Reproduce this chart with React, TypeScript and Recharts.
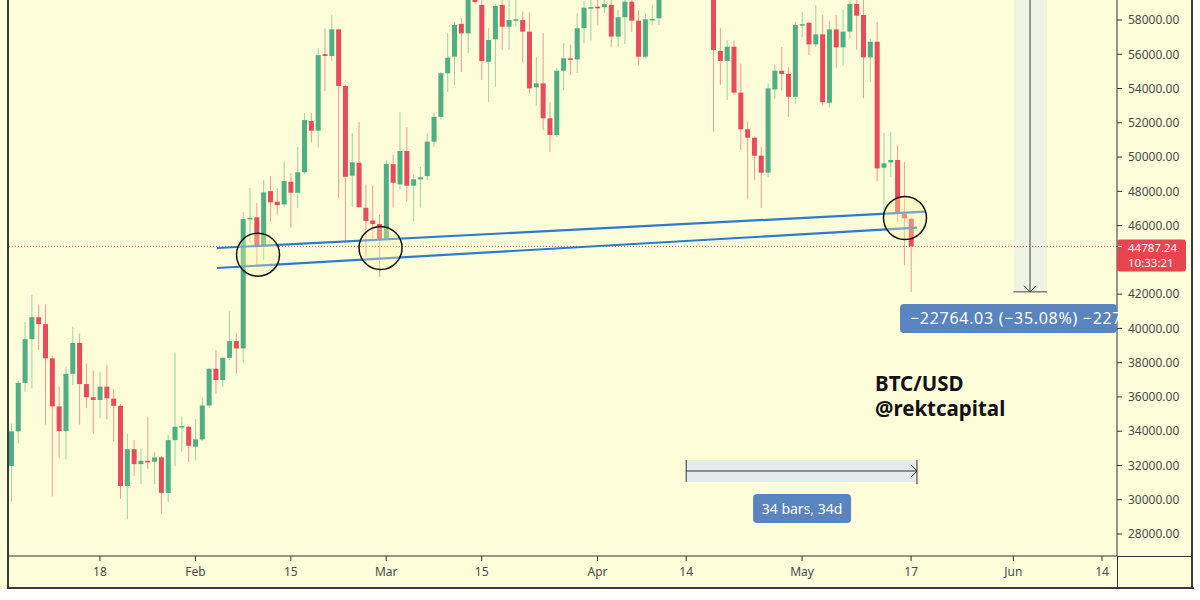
import { ComposedChart, Bar, XAxis, YAxis, ReferenceLine, ReferenceDot, ReferenceArea } from 'recharts';

// day index counted from 1 Jan 2021 = 0, first candle is 5 Jan
const firstDay = 4;

const opens = [
  31970, 33990, 36820, 39370, 40650, 40250, 38250, 35450, 34000, 37350, 39150, 36750, 35980, 35820, 36600, 35900,
  35480, 30800, 32950, 32080, 32270, 32220, 32470, 30400, 33480, 34260, 34260,
  33100, 33520, 35500, 37650, 36980, 38280, 39260, 38830, 46380, 46480, 44800, 48010, 47390, 47240, 48560, 47920,
  49110, 52100, 51540, 56000, 55900, 57450, 54150, 48910, 49670, 47040, 46300, 46090,
  45200, 49590, 48410, 50350, 48330, 48700, 48890, 50900, 52350, 54890, 55860, 57770, 57220, 61240, 58880, 55560,
  56870, 58880, 57610, 58000, 58000, 57320, 54070, 54300, 52260, 51290, 55040, 55760, 55700, 57520, 58720,
  58780, 58740, 58880, 57030, 58160, 59070, 57960, 55860, 58040, 58100, 59800, 60200, 59900, 63500, 63100, 63300,
  61600, 60700, 56190, 55610, 56440, 53760, 51620, 51130, 50080, 49090, 53950, 55040, 54850, 53520,
  57710, 57840, 56580, 57160, 53170, 57450, 56400, 57320, 58930, 58290, 55820, 56730, 49380, 49690, 49830, 46670, 46400,
];
const highs = [
  34440, 36940, 40370, 41950, 41400, 41400, 38400, 36620, 37780, 40100, 39700, 37950, 37550, 37450, 37850, 36450,
  35600, 33850, 33480, 32950, 34850, 32800, 32560, 33780, 38600, 34850, 34300,
  34700, 35980, 37660, 38720, 38300, 41000, 39720, 46800, 48200, 47330, 48650, 48900, 48170, 49720, 49050, 50580,
  52570, 52570, 56360, 57500, 58300, 57500, 54200, 51400, 52040, 48400, 48360, 46610,
  49830, 50150, 52620, 51750, 49000, 49420, 51400, 52620, 54960, 57240, 57900, 58120, 61800, 61700, 60600, 57530,
  58950, 60100, 59400, 59900, 58500, 58430, 55840, 57240, 53210, 55200, 56650, 56540, 58400, 59100, 59800,
  59500, 60000, 59800, 58580, 59300, 59500, 58580, 58400, 58870, 61200, 60700, 61300, 64000, 64900, 63800, 63600,
  62500, 61200, 57530, 56830, 56800, 55450, 52050, 51200, 50600, 54300, 55400, 56420, 55250, 57900,
  58460, 57880, 58880, 58290, 57950, 58290, 58600, 59500, 59250, 59500, 56900, 57880, 51400, 51460, 50700, 49710, 46450,
];
const lows = [
  29900, 33290, 36300, 36500, 38750, 34400, 30200, 32450, 32350, 36700, 34400, 35350, 33850, 34750, 34700, 33400,
  30050, 28850, 31380, 30900, 31800, 30900, 29150, 29850, 31950, 32800, 32200,
  32300, 33420, 35360, 36180, 36580, 38150, 37360, 37990, 45000, 43650, 44000, 46230, 46650, 47100, 45880, 47030,
  49000, 50850, 50550, 53850, 55600, 47600, 45000, 47100, 47050, 44150, 45150, 43000,
  45150, 47050, 48100, 47400, 46250, 47050, 48660, 50580, 52160, 53800, 54200, 54960, 56050, 58950, 54500, 53210,
  54100, 56250, 56250, 57600, 55500, 53700, 53000, 51570, 50290, 51170, 53910, 54790, 54900, 56650, 56800,
  57710, 58400, 56420, 56420, 56600, 57300, 55370, 55780, 57700, 57700, 59350, 59500, 59800, 61300, 62000, 60000,
  59600, 51480, 54200, 53330, 53620, 50410, 47530, 48660, 47020, 48830, 53400, 53900, 52340, 53100,
  57000, 55960, 56420, 53040, 52900, 55200, 55370, 56900, 56250, 53430, 54380, 48600, 46500, 48830, 46200, 43700, 42120,
];
const closes = [
  33990, 36820, 39370, 40650, 40250, 38250, 35450, 34000, 37350, 39150, 36750, 35980, 35820, 36600, 35920, 35480,
  30800, 32950, 32080, 32270, 32220, 32470, 30400, 33480, 34260, 34300, 33150,
  33520, 35500, 37650, 36980, 38280, 39260, 38830, 46380, 46450, 44800, 47940, 47360, 47200, 48600, 47920, 49110,
  52160, 51540, 55950, 55900, 57450, 54150, 48850, 49690, 47070, 46270, 46090, 45200,
  49590, 48500, 50350, 48330, 48700, 48820, 50900, 52350, 54890, 55800, 57710, 57220, 61240, 59050, 55600, 56830,
  58820, 57610, 58000, 58040, 57320, 54010, 54300, 52260, 51290, 55040, 55760, 55700, 57520, 58720, 58750,
  58680, 58930, 57030, 58160, 59070, 57960, 55860, 58040, 58060, 59800, 60200, 59900, 63500, 63100, 63300, 61600,
  60700, 56250, 55610, 56440, 53760, 51620, 51130, 50080, 49090, 54010, 55040, 54850, 53520, 57710,
  57760, 56580, 57160, 53200, 57450, 56400, 57320, 58930, 58250, 55820, 56730, 49340, 49630, 49830, 46770, 46420, 44787.24,
];

const tickDays = [17, 31, 45, 59, 73, 90, 103, 120, 136, 151, 164];
const tickLabels = ['18', 'Feb', '15', 'Mar', '15', 'Apr', '14', 'May', '17', 'Jun', '14'];
// 44000 sits under the price tag
const priceTicks = [28000, 30000, 32000, 34000, 36000, 38000, 40000, 42000, 46000, 48000, 50000, 52000, 54000, 56000, 58000];

const lastPrice = 44787.24;
const countdown = '10:33:21';

const channelTop = [{ x: 34.17, y: 44692 }, { x: 138.03, y: 46811 }];
const channelBottom = [{ x: 34.17, y: 43525 }, { x: 136.86, y: 45877 }];
const touchDays = [40.19, 58.16, 135.1];
const touchPrices = [44302, 44692, 46443];

// price range tool: top off-screen, bottom at the low
const dropDay = 153.44;
const dropLow = 42131;
const dropText = '\u221222764.03 (\u221235.08%) \u2212227';

// date range tool: 14 Apr -> 18 May
const rangeStart = 103;
const rangeEnd = 136.86;
const rangeText = '34 bars, 34d';

const watermark = ['BTC/USD', '@rektcapital'];

const xDomain = [3.51, 166.2];
const yDomain = [26716, 59167];

const BG = '#fdfdd9';
const GREEN = '#4fae82';
const RED = '#e84b5b';
const BLUE = '#2b7bd0';
const TAG_BLUE = '#5a84c0';
const AXIS_TEXT = '#4a4a4a';
const FONT = '"Noto Sans", sans-serif';

const candles = opens.map((o, i) => ({
  day: firstDay + i,
  open: o,
  high: highs[i],
  low: lows[i],
  close: closes[i],
}));

function Candle(props: any) {
  const { x, y, width, height, payload } = props;
  const { open, close, high, low } = payload;
  const cx = x + width / 2;
  const k = height / (high - low);
  const yo = y + (high - open) * k;
  const yc = y + (high - close) * k;
  const color = close >= open ? GREEN : RED;
  const top = Math.min(yo, yc);
  const h = Math.max(Math.abs(yo - yc), 1.5);
  return (
    <g>
      <line x1={cx} x2={cx} y1={y} y2={y + height} stroke={color} strokeOpacity={0.55} strokeWidth={1} />
      <rect x={cx - 2.5} y={top} width={5} height={h} fill={color} />
    </g>
  );
}

function PriceTag(props: any) {
  const { cx, cy } = props;
  return (
    <g>
      <rect x={cx} y={cy - 7} width={69} height={32} rx={3} fill="#e8454f" />
      <line x1={cx + 1} x2={cx + 5} y1={cy} y2={cy} stroke="#fff" />
      <text fill="#fff" fontSize={11.5} fontFamily={FONT}>
        <tspan x={cx + 11} y={cy + 6}>{lastPrice.toFixed(2)}</tspan>
        <tspan x={cx + 11} y={cy + 20.5}>{countdown}</tspan>
      </text>
    </g>
  );
}

function DropTag(props: any) {
  const { cx, cy } = props;
  return (
    <g>
      <rect x={cx} y={cy - 14.5} width={217} height={29} rx={4} fill={TAG_BLUE} />
      <text x={cx + 10} y={cy + 5.5} fill="#fff" fontSize={16} letterSpacing={0.7} fontFamily={FONT}>{dropText}</text>
    </g>
  );
}

function RangeTag(props: any) {
  const { cx, cy } = props;
  return (
    <g>
      <rect x={cx - 49} y={cy - 14.5} width={98} height={29} rx={4} fill={TAG_BLUE} />
      <text x={cx} y={cy + 5} fill="#fff" fontSize={14} textAnchor="middle" fontFamily={FONT}>{rangeText}</text>
    </g>
  );
}

function Watermark(props: any) {
  const { cx, cy } = props;
  return (
    <text fontFamily={FONT} fontWeight={700} fontSize={20.5} fill="#111">
      <tspan x={cx} y={cy - 1}>{watermark[0]}</tspan>
      <tspan x={cx} y={cy + 24.5}>{watermark[1]}</tspan>
    </text>
  );
}

const box = (s: any) => ({ position: 'absolute' as const, ...s });

export default function App() {
  return (
    <div style={box({ left: 0, top: 0, width: 1200, height: 600, background: '#fff', overflow: 'hidden' })}>
      <div style={box({ left: 0, top: 0, width: 1192, height: 588, background: BG })} />
      <div style={box({ left: 7, top: 0, width: 2, height: 589, background: '#3a3a3a' })} />
      <div style={box({ left: 7, top: 587, width: 1187, height: 2, background: '#3a3a3a' })} />
      <div style={box({ left: 1191, top: 0, width: 2, height: 589, background: '#3a3a3a' })} />
      <div style={box({ left: 1117, top: 556, width: 1, height: 32, background: '#333' })} />
      <div style={box({ left: 1117, top: 556, width: 75, height: 1, background: '#333' })} />
      <div style={box({ left: 0, top: 0 })}>
        <ComposedChart
          width={1200}
          height={600}
          data={candles}
          margin={{ top: 0, right: 8, bottom: 12, left: 8 }}
          style={{ fontFamily: FONT }}
        >
          <XAxis
            dataKey="day"
            type="number"
            domain={xDomain}
            allowDataOverflow
            ticks={tickDays}
            interval={0}
            tickFormatter={(v: number) => tickLabels[tickDays.indexOf(v)]}
            height={32}
            tickSize={5}
            tickMargin={6}
            stroke="#333"
            tick={{ fill: AXIS_TEXT, fontSize: 12 }}
          />
          <YAxis
            orientation="right"
            type="number"
            domain={yDomain}
            allowDataOverflow
            ticks={priceTicks}
            interval={0}
            tickFormatter={(v: number) => v.toFixed(2)}
            width={75}
            tickSize={5}
            tickMargin={6}
            stroke="#333"
            tick={{ fill: AXIS_TEXT, fontSize: 12 }}
          />

          <ReferenceArea x1={151.09} x2={155.93} y1={dropLow} y2={70000} fill="#eef3e2" fillOpacity={1} ifOverflow="hidden" />
          <ReferenceArea x1={rangeStart} x2={rangeEnd} y1={31035} y2={32319} fill="#e2ecea" fillOpacity={1} />

          <ReferenceLine y={lastPrice} stroke="#d0505a" strokeDasharray="1 2" />

          <Bar dataKey={(d: any) => [d.low, d.high]} shape={Candle} barSize={5} isAnimationActive={false} />

          <ReferenceLine segment={channelTop} stroke={BLUE} strokeWidth={2.2} />
          <ReferenceLine segment={channelBottom} stroke={BLUE} strokeWidth={2.2} />
          {touchDays.map((d, i) => (
            <ReferenceDot key={i} x={d} y={touchPrices[i]} r={21.5} fill="#fff6b0" fillOpacity={0.35} stroke="#111" strokeWidth={1.5} />
          ))}

          {/* price range arrow */}
          <ReferenceLine segment={[{ x: dropDay, y: 70000 }, { x: dropDay, y: dropLow }]} stroke="#444" ifOverflow="hidden" />
          <ReferenceLine segment={[{ x: 151.0, y: dropLow }, { x: 155.93, y: dropLow }]} stroke="#444" />
          <ReferenceLine segment={[{ x: dropDay - 0.88, y: dropLow + 360 }, { x: dropDay, y: dropLow }]} stroke="#444" />
          <ReferenceLine segment={[{ x: dropDay + 0.88, y: dropLow + 360 }, { x: dropDay, y: dropLow }]} stroke="#444" />
          <ReferenceDot x={134.37} y={40578} shape={DropTag} ifOverflow="visible" />

          {/* date range arrow */}
          <ReferenceLine segment={[{ x: rangeStart, y: 31677 }, { x: rangeEnd, y: 31677 }]} stroke="#333" />
          <ReferenceLine segment={[{ x: rangeStart, y: 32319 }, { x: rangeStart, y: 31035 }]} stroke="#333" />
          <ReferenceLine segment={[{ x: rangeEnd, y: 32319 }, { x: rangeEnd, y: 30900 }]} stroke="#333" />
          <ReferenceLine segment={[{ x: rangeEnd - 0.88, y: 32030 }, { x: rangeEnd, y: 31677 }]} stroke="#333" />
          <ReferenceLine segment={[{ x: rangeEnd - 0.88, y: 31324 }, { x: rangeEnd, y: 31677 }]} stroke="#333" />
          <ReferenceDot x={120} y={29488} shape={RangeTag} ifOverflow="visible" />

          <ReferenceDot x={130.7} y={36288} shape={Watermark} ifOverflow="visible" />
          <ReferenceDot x={xDomain[1]} y={lastPrice} shape={PriceTag} ifOverflow="visible" />
        </ComposedChart>
      </div>
    </div>
  );
}
